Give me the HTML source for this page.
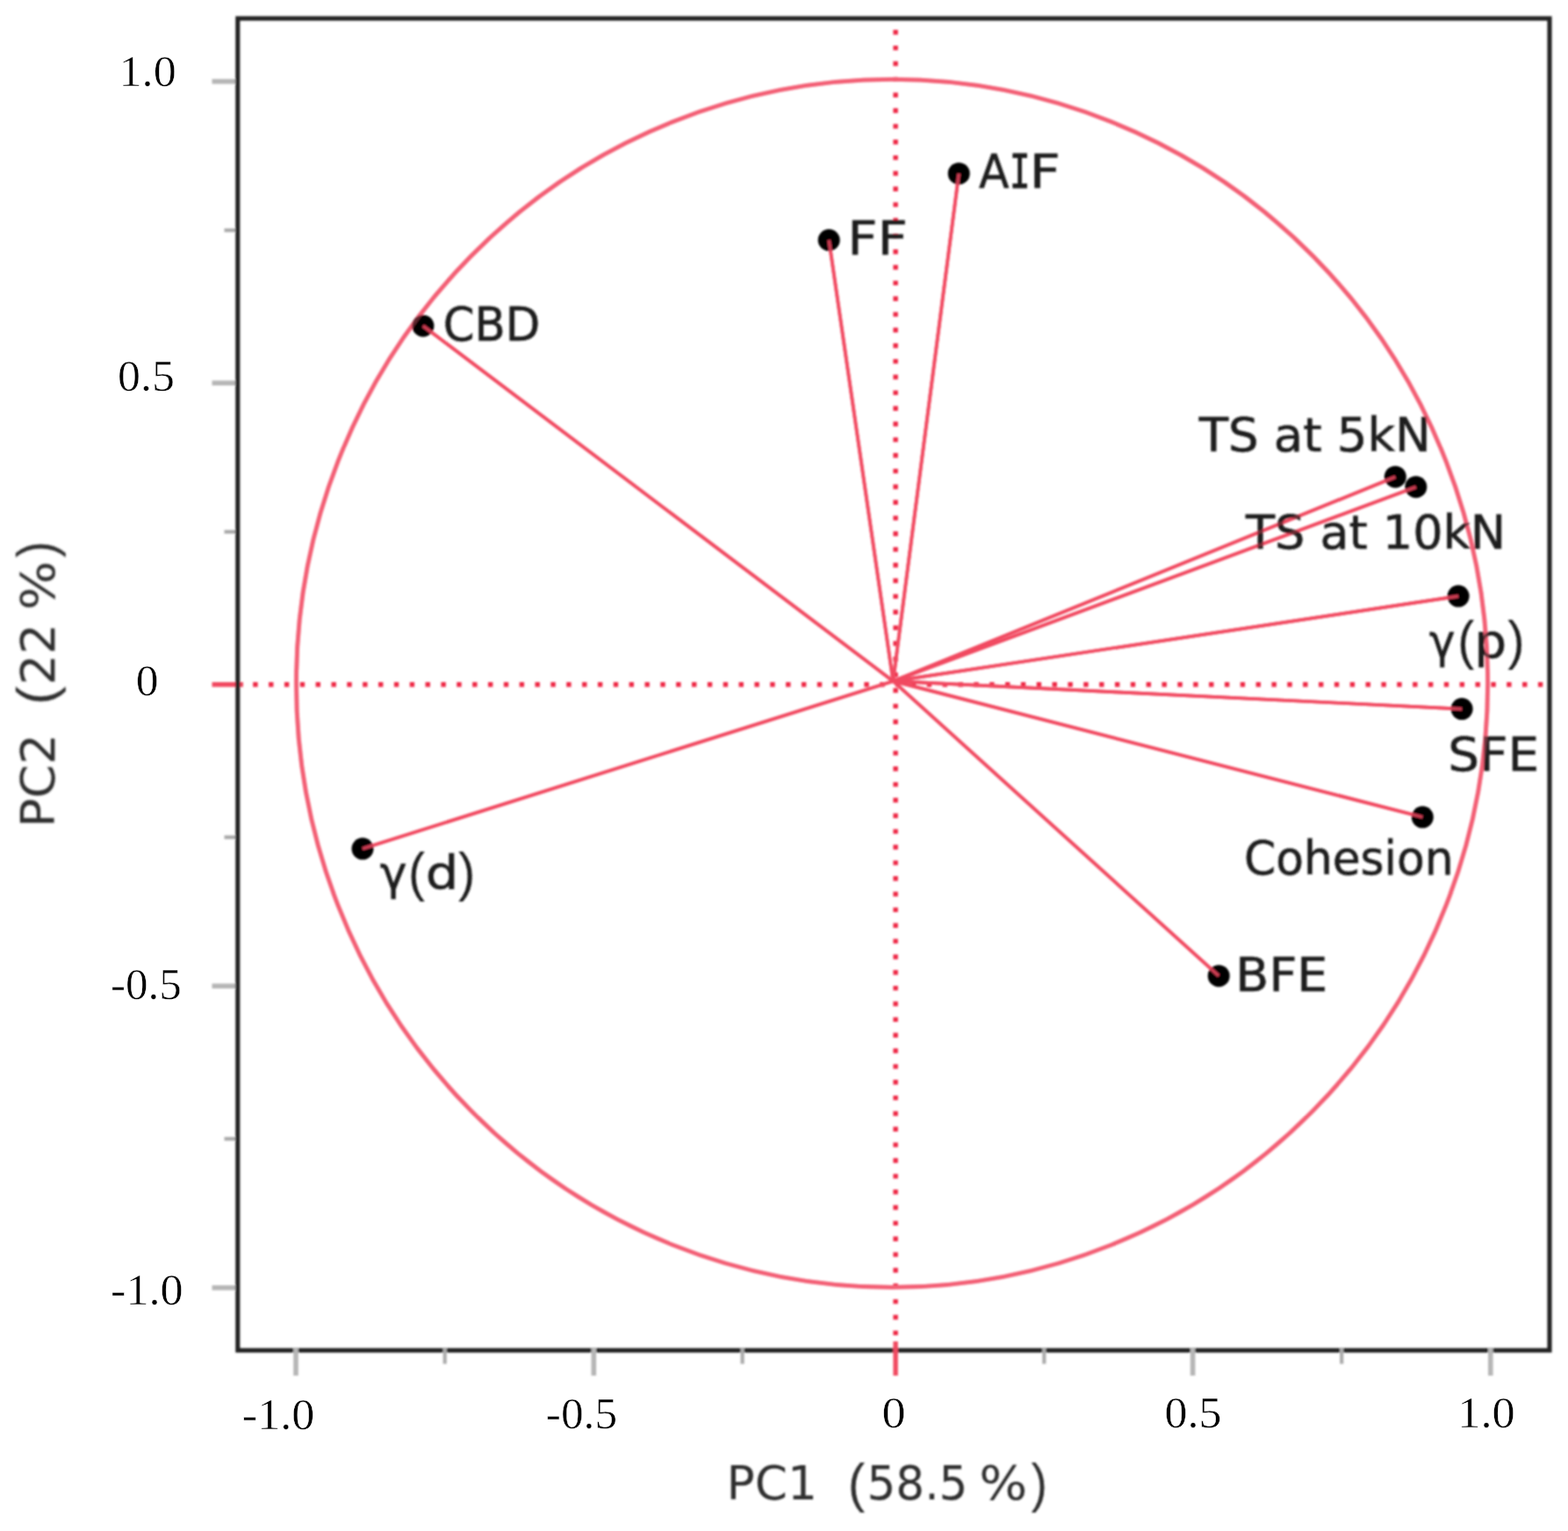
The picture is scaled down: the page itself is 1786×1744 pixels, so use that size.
<!DOCTYPE html>
<html lang="en"><head><meta charset="utf-8"><title>PCA loading plot</title>
<style>
html,body{margin:0;padding:0;background:#fff;}
body{width:1786px;height:1744px;overflow:hidden;}
svg{display:block;width:1786px;height:1744px;}
.lab{font-family:'DejaVu Sans Condensed','DejaVu Sans','Liberation Sans',sans-serif;font-size:53px;fill:#1a1a1a;stroke:#1a1a1a;stroke-width:0.5px;}
.axt{font-family:'DejaVu Sans Condensed','DejaVu Sans','Liberation Sans',sans-serif;font-size:53px;fill:#2e2e2e;}
.tk{font-family:'Liberation Serif',serif;font-size:51px;fill:#000;stroke:#fff;stroke-width:0.5px;}
.par{font-family:'Liberation Sans',sans-serif;font-size:62px;stroke:none;}
.mono{font-family:'DejaVu Sans Mono','Liberation Mono',monospace;stroke-width:1.1px;}
</style></head><body>
<svg width="1786" height="1744" viewBox="0 0 1786 1744" role="img" aria-label="PCA loading plot: PC1 (58.5 %) versus PC2 (22 %)">
<defs><filter id="soft" x="-2%" y="-2%" width="104%" height="104%"><feGaussianBlur stdDeviation="1.25"/></filter><filter id="soft2" x="-2%" y="-2%" width="104%" height="104%"><feGaussianBlur stdDeviation="0.7"/></filter></defs>
<rect width="1786" height="1744" fill="#fff"/>
<g filter="url(#soft)">
<g stroke="#b6b6b6" stroke-width="5.6" fill="none">
<line x1="241.5" y1="92.75" x2="270.8" y2="92.75"/>
<line x1="241.5" y1="436.3" x2="270.8" y2="436.3"/>
<line x1="241.5" y1="1123.2" x2="270.8" y2="1123.2"/>
<line x1="241.5" y1="1466.9" x2="270.8" y2="1466.9"/>
<line x1="255.5" y1="262.3" x2="270.8" y2="262.3" stroke="#a9a9a9" stroke-width="4.2"/>
<line x1="255.5" y1="605.8" x2="270.8" y2="605.8" stroke="#a9a9a9" stroke-width="4.2"/>
<line x1="255.5" y1="953.7" x2="270.8" y2="953.7" stroke="#a9a9a9" stroke-width="4.2"/>
<line x1="255.5" y1="1297.3" x2="270.8" y2="1297.3" stroke="#a9a9a9" stroke-width="4.2"/>
</g>
<line x1="241.5" y1="779.8" x2="277" y2="779.8" stroke="#f14a61" stroke-width="5.4"/>
<rect x="270.8" y="21.0" width="1494.2" height="1517.2" fill="none" stroke="#242424" stroke-width="5.1"/>
<g stroke="#b6b6b6" stroke-width="5.6" fill="none">
<line x1="337" y1="1535.2" x2="337" y2="1567"/>
<line x1="676.3" y1="1535.2" x2="676.3" y2="1567"/>
<line x1="1358.6" y1="1535.2" x2="1358.6" y2="1567"/>
<line x1="1697.8" y1="1535.2" x2="1697.8" y2="1567"/>
<line x1="506.7" y1="1535.2" x2="506.7" y2="1553.6" stroke="#acacac" stroke-width="4.2"/>
<line x1="845.6" y1="1535.2" x2="845.6" y2="1553.6" stroke="#acacac" stroke-width="4.2"/>
<line x1="1189.3" y1="1535.2" x2="1189.3" y2="1553.6" stroke="#acacac" stroke-width="4.2"/>
<line x1="1528.2" y1="1535.2" x2="1528.2" y2="1553.6" stroke="#acacac" stroke-width="4.2"/>
</g>
<line x1="288.2" y1="779.8" x2="1759" y2="779.8" stroke="#ee2745" stroke-width="5.4" stroke-dasharray="5.4 12.45"/>
<line x1="1020.1" y1="34.1" x2="1020.1" y2="1524" stroke="#ee2745" stroke-width="5.4" stroke-dasharray="5.4 12.45"/>
<line x1="1020.1" y1="1528" x2="1020.1" y2="1567" stroke="#f14a61" stroke-width="5.4"/>
<ellipse cx="1016.05" cy="778.45" rx="678.55" ry="688" fill="none" stroke="#f35f75" stroke-width="4.8"/>
<g stroke="#f14a61" stroke-width="3.7" fill="none" stroke-linecap="butt">
<line x1="1017.3" y1="775.9" x2="1092.2" y2="197.7"/>
<line x1="1017.3" y1="775.9" x2="944.2" y2="273.5"/>
<line x1="1017.3" y1="775.9" x2="481.9" y2="371.2"/>
<line x1="1017.3" y1="775.9" x2="1589.3" y2="543.2"/>
<line x1="1017.3" y1="775.9" x2="1612.8" y2="554.7"/>
<line x1="1017.3" y1="775.9" x2="1661.1" y2="679.1"/>
<line x1="1017.3" y1="775.9" x2="1665.1" y2="807.6"/>
<line x1="1017.3" y1="775.9" x2="1620.3" y2="930.8"/>
<line x1="1017.3" y1="775.9" x2="1388.2" y2="1111.7"/>
<line x1="1017.3" y1="775.9" x2="413.0" y2="966.8"/>
</g>
<g fill="#000">
<circle cx="1092.2" cy="197.7" r="12.5"/>
<circle cx="944.2" cy="273.5" r="12.5"/>
<circle cx="481.9" cy="371.2" r="12.5"/>
<circle cx="1589.3" cy="543.2" r="12.5"/>
<circle cx="1612.8" cy="554.7" r="12.5"/>
<circle cx="1661.1" cy="679.1" r="12.5"/>
<circle cx="1665.1" cy="807.6" r="12.5"/>
<circle cx="1620.3" cy="930.8" r="12.5"/>
<circle cx="1388.2" cy="1111.7" r="12.5"/>
<circle cx="413.0" cy="966.8" r="12.5"/>
</g>
<g stroke="#f14a61" stroke-width="3.7" fill="none" stroke-linecap="butt" opacity="0.75">
<line x1="1017.3" y1="775.9" x2="1092.2" y2="197.7"/>
<line x1="1017.3" y1="775.9" x2="944.2" y2="273.5"/>
<line x1="1017.3" y1="775.9" x2="481.9" y2="371.2"/>
<line x1="1017.3" y1="775.9" x2="1589.3" y2="543.2"/>
<line x1="1017.3" y1="775.9" x2="1612.8" y2="554.7"/>
<line x1="1017.3" y1="775.9" x2="1661.1" y2="679.1"/>
<line x1="1017.3" y1="775.9" x2="1665.1" y2="807.6"/>
<line x1="1017.3" y1="775.9" x2="1620.3" y2="930.8"/>
<line x1="1017.3" y1="775.9" x2="1388.2" y2="1111.7"/>
<line x1="1017.3" y1="775.9" x2="413.0" y2="966.8"/>
</g>
<text class="lab" y="213.9"><tspan x="1114.99" textLength="34.46" lengthAdjust="spacingAndGlyphs">A</tspan><tspan class="mono" x="1150.12" textLength="23.37" lengthAdjust="spacingAndGlyphs">I</tspan><tspan x="1172.76" textLength="34.99" lengthAdjust="spacingAndGlyphs">F</tspan></text>
<text class="lab" x="965.28" y="290.2" textLength="68.56" lengthAdjust="spacingAndGlyphs">FF</text>
<text class="lab" x="504.65" y="388.4" textLength="110.53" lengthAdjust="spacingAndGlyphs">CBD</text>
<text class="lab" x="1365.7" y="513.5" textLength="264.1" lengthAdjust="spacingAndGlyphs">TS at 5kN</text>
<text class="lab" x="1419" y="624.8" textLength="296.22" lengthAdjust="spacingAndGlyphs">TS at 10kN</text>
<text class="lab" y="748.9"><tspan x="1628.14" textLength="29.5" lengthAdjust="spacingAndGlyphs">γ</tspan><tspan class="par" dy="1.1" x="1660.35" textLength="19.03" lengthAdjust="spacingAndGlyphs">(</tspan><tspan dy="-1.1" x="1679.21" textLength="36.93" lengthAdjust="spacingAndGlyphs">p</tspan><tspan class="par" dy="1.1" x="1717.23" textLength="19.32" lengthAdjust="spacingAndGlyphs">)</tspan></text>
<text class="lab" x="1649.19" y="878.2" textLength="104.01" lengthAdjust="spacingAndGlyphs">SFE</text>
<text class="lab" x="1417.02" y="996.2" textLength="238.51" lengthAdjust="spacingAndGlyphs">Cohesion</text>
<text class="lab" x="1407.38" y="1129.1" textLength="104.87" lengthAdjust="spacingAndGlyphs">BFE</text>
<text class="lab" y="1013"><tspan x="432.71" textLength="30.8" lengthAdjust="spacingAndGlyphs">γ</tspan><tspan class="par" dy="1.1" x="465.05" textLength="19.03" lengthAdjust="spacingAndGlyphs">(</tspan><tspan dy="-1.1" x="484.71" textLength="37.58" lengthAdjust="spacingAndGlyphs">d</tspan><tspan class="par" dy="1.1" x="521.93" textLength="19.32" lengthAdjust="spacingAndGlyphs">)</tspan></text>
<ellipse cx="1016.05" cy="778.45" rx="678.55" ry="688" fill="none" stroke="#f35f75" stroke-width="4.8" opacity="0.4"/>
<g stroke="#f14a61" stroke-width="3.7" fill="none" stroke-linecap="butt" opacity="0.4">
<line x1="1017.3" y1="775.9" x2="1092.2" y2="197.7"/>
<line x1="1017.3" y1="775.9" x2="944.2" y2="273.5"/>
<line x1="1017.3" y1="775.9" x2="481.9" y2="371.2"/>
<line x1="1017.3" y1="775.9" x2="1589.3" y2="543.2"/>
<line x1="1017.3" y1="775.9" x2="1612.8" y2="554.7"/>
<line x1="1017.3" y1="775.9" x2="1661.1" y2="679.1"/>
<line x1="1017.3" y1="775.9" x2="1665.1" y2="807.6"/>
<line x1="1017.3" y1="775.9" x2="1620.3" y2="930.8"/>
<line x1="1017.3" y1="775.9" x2="1388.2" y2="1111.7"/>
<line x1="1017.3" y1="775.9" x2="413.0" y2="966.8"/>
</g>
</g>
<g filter="url(#soft2)">
<text class="tk" x="135.61" y="97.8" textLength="65.03" lengthAdjust="spacingAndGlyphs">1.0</text>
<text class="tk" x="134.06" y="445.3" textLength="64.87" lengthAdjust="spacingAndGlyphs">0.5</text>
<text class="tk" x="154.78" y="791.9" textLength="25.74" lengthAdjust="spacingAndGlyphs">0</text>
<text class="tk" x="126.1" y="1138" textLength="80.79" lengthAdjust="spacingAndGlyphs">-0.5</text>
<text class="tk" x="126.05" y="1486.3" textLength="82.58" lengthAdjust="spacingAndGlyphs">-1.0</text>
<text class="tk" x="275.85" y="1627.8" textLength="82.58" lengthAdjust="spacingAndGlyphs">-1.0</text>
<text class="tk" x="621.89" y="1626.6" textLength="81.21" lengthAdjust="spacingAndGlyphs">-0.5</text>
<text class="tk" x="1004.48" y="1626" textLength="27.04" lengthAdjust="spacingAndGlyphs">0</text>
<text class="tk" x="1326.56" y="1626.4" textLength="64.87" lengthAdjust="spacingAndGlyphs">0.5</text>
<text class="tk" x="1660.29" y="1626.4" textLength="65.36" lengthAdjust="spacingAndGlyphs">1.0</text>
</g>
<g filter="url(#soft)">
<text class="axt" transform="translate(832.7,1707.8)" xml:space="preserve"><tspan x="-5.12" textLength="103.41" lengthAdjust="spacingAndGlyphs">PC1</tspan> <tspan class="par" dy="1.8" x="132.95" textLength="19.53" lengthAdjust="spacingAndGlyphs">(</tspan><tspan dy="-1.8" x="154.9" textLength="114.68" lengthAdjust="spacingAndGlyphs">58.5</tspan> <tspan x="282.59" textLength="54.96" lengthAdjust="spacingAndGlyphs">%</tspan><tspan class="par" dy="1.8" x="341.75" textLength="18.43" lengthAdjust="spacingAndGlyphs">)</tspan></text>
<text class="axt" transform="translate(61.8,937.4) rotate(-90)" xml:space="preserve"><tspan x="-5.29" textLength="106.82" lengthAdjust="spacingAndGlyphs">PC2</tspan> <tspan class="par" dy="0.2" x="134.46" textLength="21.16" lengthAdjust="spacingAndGlyphs">(</tspan><tspan dy="-0.2" x="157.02" textLength="70.21" lengthAdjust="spacingAndGlyphs">22</tspan> <tspan x="242.21" textLength="56.21" lengthAdjust="spacingAndGlyphs">%</tspan><tspan class="par" dy="0.2" x="302.35" textLength="18.69" lengthAdjust="spacingAndGlyphs">)</tspan></text>
</g>
</svg>
</body></html>
